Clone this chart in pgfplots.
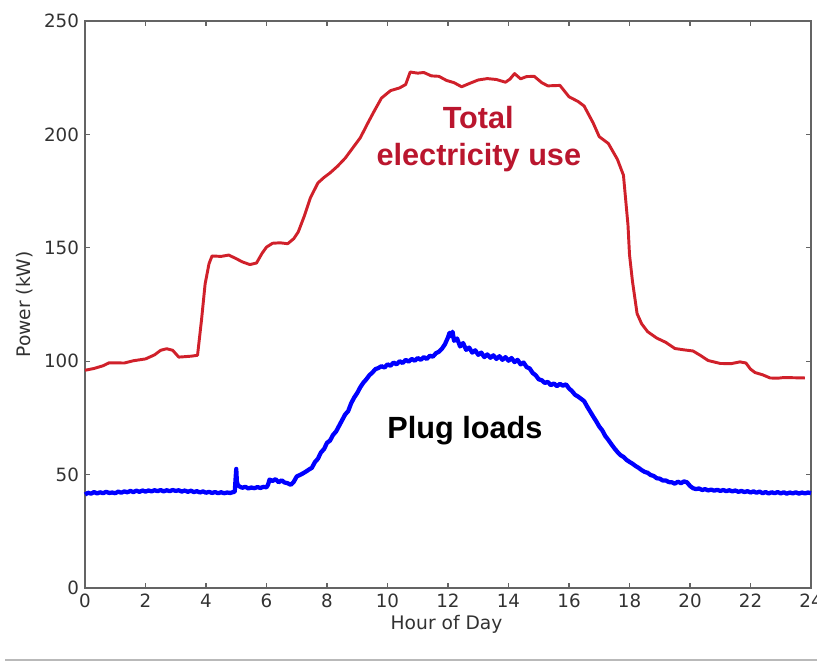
\documentclass[border=0pt]{standalone}
\usepackage{fontspec}
\setmainfont{DejaVu Sans}
\newfontfamily\lib{Liberation Sans}
\usepackage{pgfplots}
\pgfplotsset{compat=1.18}
\definecolor{redline}{RGB}{208,32,42}
\definecolor{redtext}{RGB}{186,22,46}
\definecolor{blueline}{RGB}{0,0,255}
\definecolor{axgray}{RGB}{100,100,100}
\definecolor{txtgray}{RGB}{50,50,50}
\begin{document}
\begin{tikzpicture}
\useasboundingbox (0pt,0pt) rectangle (612.75pt,497.25pt);
\draw[gray!55, line width=1.2pt] (3.75pt,2.25pt) -- (612.75pt,2.25pt);
\begin{axis}[
  at={(63.75pt,56.25pt)}, anchor=south west,
  scale only axis, width=544.5pt, height=425.25pt,
  xmin=0, xmax=24, ymin=0, ymax=250,
  xtick={0,2,...,24}, ytick={0,50,...,250},
  tick align=inside, major tick length=3.75pt,
  axis line style={axgray, line width=1.5pt},
  every tick/.style={axgray, line width=1pt},
  /pgf/number format/assume math mode=true,
  ticklabel style={font=\fontsize{13.7}{16}\selectfont, text=txtgray},
  xticklabel style={yshift=-1pt},
  yticklabel style={xshift=-1pt},
  xlabel={Hour of Day}, ylabel={Power (kW)},
  label style={font=\fontsize{14}{16}\selectfont, text=txtgray},
  xlabel style={at={(axis description cs:0.498,-0.074)}, anchor=base},
  ylabel style={at={(axis description cs:-0.0826,0.5)}, anchor=center, rotate=0},
  clip=false,
]
\addplot[redline, line width=2.2pt, line join=round] coordinates {
(0,96) (0.3,96.8) (0.6,98) (0.8,99.3) (1.3,99.2) (1.6,100.2) (2.0,101) (2.3,102.8) (2.5,104.8) (2.7,105.5) (2.9,104.8) (3.1,101.8) (3.5,102.2) (3.72,102.6) (3.85,118) (3.97,134) (4.1,143) (4.2,146.4) (4.5,146.2) (4.75,146.8) (5.0,145.2) (5.2,143.8) (5.45,142.6) (5.67,143.3) (5.85,147.5) (6.0,150.3) (6.2,152) (6.45,152.2) (6.7,151.8) (6.9,154) (7.05,157) (7.25,164) (7.45,172) (7.7,178.6) (7.9,181) (8.1,183) (8.35,186) (8.6,189.5) (8.85,194) (9.1,198.5) (9.35,205) (9.55,210) (9.8,216) (10.1,219.3) (10.4,220.5) (10.6,222) (10.75,227.5) (11.0,227) (11.2,227.3) (11.45,225.8) (11.7,225.6) (11.95,223.8) (12.2,222.8) (12.45,221) (12.7,222.4) (13.0,224) (13.3,224.6) (13.6,224.2) (13.9,223) (14.05,224.4) (14.2,226.8) (14.4,224.5) (14.6,225.5) (14.85,225.6) (15.1,222.8) (15.3,221.4) (15.7,221.6) (16.0,216.6) (16.3,214.5) (16.5,212.5) (16.8,205) (17.0,199) (17.3,196) (17.6,189) (17.8,182) (17.95,160) (18.0,147) (18.1,135) (18.25,121) (18.4,116.5) (18.6,113) (18.9,110.2) (19.2,108.3) (19.5,105.6) (19.8,105) (20.1,104.5) (20.35,102.5) (20.6,100.3) (21.0,99) (21.35,98.9) (21.65,99.7) (21.85,99.2) (22.0,96.5) (22.15,95) (22.4,94) (22.65,92.6) (22.9,92.5) (23.1,92.8) (23.8,92.6)
};
\addplot[blueline, line width=3.2pt, line join=round] coordinates {
(0.0,41.2) (0.1,42.0) (0.2,41.6) (0.3,42.3) (0.4,41.7) (0.5,42.2) (0.6,41.8) (0.7,42.4) (0.8,41.9) (0.9,42.1)
(1.0,41.8) (1.1,42.5) (1.2,42.0) (1.3,42.6) (1.4,42.2) (1.5,42.8) (1.6,42.3) (1.7,42.9) (1.8,42.4) (1.9,43.0)
(2.0,42.5) (2.1,43.0) (2.2,42.6) (2.3,43.1) (2.4,42.7) (2.5,43.2) (2.6,42.6) (2.7,43.1) (2.8,42.7) (2.9,43.2)
(3.0,42.8) (3.1,43.1) (3.2,42.5) (3.3,43.0) (3.4,42.4) (3.5,42.9) (3.6,42.3) (3.7,42.7) (3.8,42.1) (3.9,42.6)
(4.0,42.0) (4.1,42.4) (4.2,41.9) (4.3,42.3) (4.4,41.8) (4.5,42.2) (4.6,41.8) (4.7,42.1) (4.8,41.9) (4.9,42.3)
(4.95,42.4) (5.0,52.5) (5.02,47) (5.05,45.5) (5.1,44.8) (5.2,44.2) (5.3,44.6) (5.4,43.9) (5.5,44.3) (5.6,44.0)
(5.7,44.5) (5.8,44.1) (5.9,44.6) (6.0,44.4) (6.05,45.5) (6.1,47.8) (6.2,47.2) (6.3,48.0) (6.4,46.6) (6.5,47.5)
(6.6,46.5) (6.7,46.2) (6.8,45.5) (6.9,46.8) (7.0,49.2) (7.1,49.8) (7.2,50.5) (7.3,51.3) (7.4,52.2) (7.5,53.0)
(7.6,55.5) (7.7,57.0) (7.8,59.8) (7.9,61.2) (8.0,64.0) (8.1,65.0) (8.2,67.5) (8.3,69.0) (8.4,71.5) (8.5,74.0)
(8.6,76.5) (8.7,78.0) (8.8,81.5) (8.9,84.0) (9.0,86.0) (9.1,88.5) (9.2,90.5) (9.3,92.0) (9.4,93.8) (9.5,95.0)
(9.6,96.5) (9.7,97.0) (9.8,97.8) (9.9,97.2) (10.0,98.6) (10.1,98.0) (10.2,99.4) (10.3,98.6) (10.4,100.0) (10.5,99.2)
(10.6,100.6) (10.7,99.8) (10.8,101.0) (10.9,100.2) (11.0,101.4) (11.1,100.6) (11.2,101.8) (11.3,101.0) (11.4,102.4) (11.5,102.0)
(11.6,103.5) (11.7,104.2) (11.8,105.5) (11.9,107.5) (12.0,110.5) (12.05,112.5) (12.1,111.0) (12.15,113.0) (12.2,109.0) (12.3,110.0)
(12.4,106.5) (12.5,108.0) (12.6,105.0) (12.7,106.0) (12.8,103.8) (12.9,104.8) (13.0,102.8) (13.1,103.8) (13.2,101.8) (13.3,103.0)
(13.4,101.5) (13.5,102.6) (13.6,101.0) (13.7,102.2) (13.8,100.6) (13.9,101.8) (14.0,100.2) (14.1,101.4) (14.2,99.6) (14.3,100.6)
(14.4,98.6) (14.5,99.4) (14.6,97.4) (14.7,96.8) (14.8,94.8) (14.9,93.8) (15.0,92.0) (15.1,91.6) (15.2,90.4) (15.3,90.9)
(15.4,89.4) (15.5,90.2) (15.6,89.0) (15.7,90.0) (15.8,89.2) (15.9,89.8) (16.0,88.0) (16.1,86.8) (16.2,85.2) (16.3,84.4)
(16.4,83.4) (16.5,82.4) (16.6,80.0) (16.7,77.8) (16.8,75.6) (16.9,73.5) (17.0,71.2) (17.1,69.5) (17.2,67.0) (17.3,65.3)
(17.4,63.4) (17.5,61.6) (17.6,60.0) (17.7,58.6) (17.8,57.8) (17.9,56.5) (18.0,55.6) (18.1,54.8) (18.2,53.8) (18.3,53.0)
(18.4,52.0) (18.5,51.2) (18.6,50.8) (18.7,49.8) (18.8,49.4) (18.9,48.4) (19.0,48.2) (19.1,47.4) (19.2,47.4) (19.3,46.7)
(19.4,46.6) (19.5,46.0) (19.6,46.9) (19.7,46.2) (19.8,47.0) (19.9,46.6) (20.0,45.0) (20.1,44.0) (20.2,43.6) (20.3,43.9)
(20.4,43.2) (20.5,43.6) (20.6,43.0) (20.7,43.4) (20.8,42.9) (20.9,43.3) (21.0,42.8) (21.1,43.2) (21.2,42.7) (21.3,43.1)
(21.4,42.6) (21.5,43.0) (21.6,42.4) (21.7,42.8) (21.8,42.3) (21.9,42.7) (22.0,42.1) (22.1,42.6) (22.2,42.0) (22.3,42.5)
(22.4,41.8) (22.5,42.3) (22.6,41.7) (22.7,42.2) (22.8,41.8) (22.9,42.3) (23.0,41.7) (23.1,42.2) (23.2,41.6) (23.3,42.1)
(23.4,41.7) (23.5,42.2) (23.6,41.6) (23.7,42.1) (23.8,41.7) (23.9,42.1) (24.0,41.8)
};
\node[anchor=base, text=redtext, font=\lib\bfseries\fontsize{23}{26}\selectfont, inner sep=0pt] at (axis cs:13.0,202.8) {Total};
\node[anchor=base, text=redtext, font=\lib\bfseries\fontsize{23}{26}\selectfont, inner sep=0pt] at (axis cs:13.02,186.5) {electricity use};
\node[anchor=base, text=black, font=\lib\bfseries\fontsize{23}{26}\selectfont, inner sep=0pt] at (axis cs:12.56,66.1) {Plug loads};
\end{axis}
\end{tikzpicture}
\end{document}
